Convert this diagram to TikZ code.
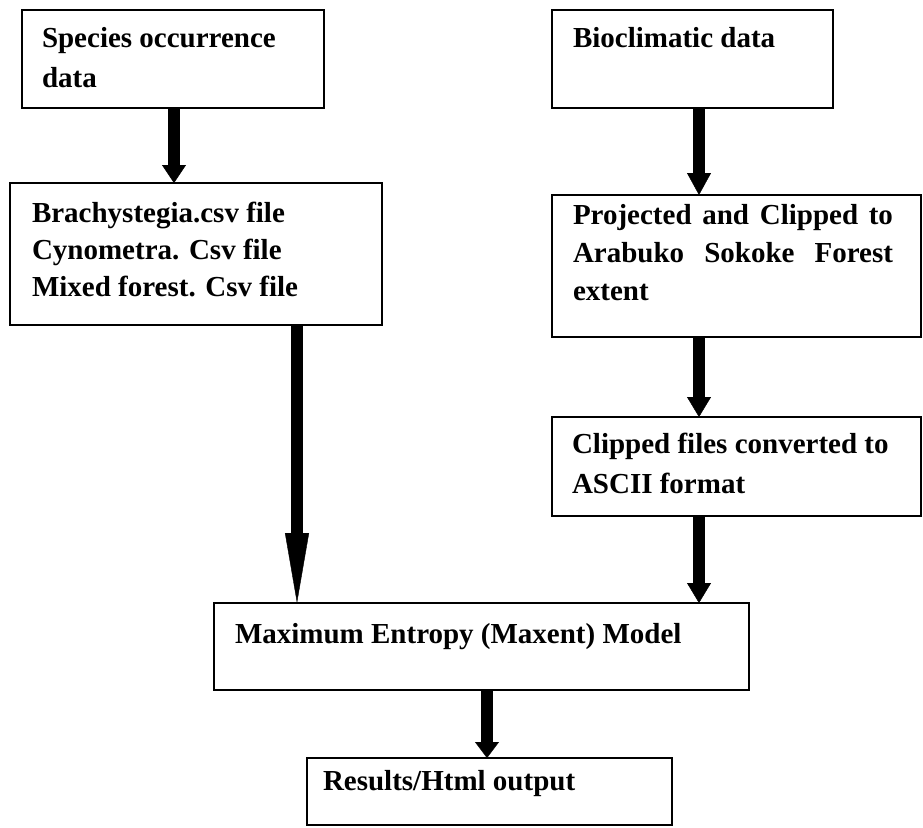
\documentclass[tikz,border=0pt]{standalone}
\usepackage{fontspec}
\setmainfont{Liberation Serif}
\usetikzlibrary{arrows.meta}
\newcommand{\fst}{\rule{0pt}{24pt}}
\begin{document}
\begin{tikzpicture}[x=1pt,y=-1pt,
  box/.style={draw,line width=1.5pt,anchor=north west,inner sep=0pt,outer sep=0pt},
  txt/.style={anchor=north west,inner sep=0pt,outer sep=0pt,align=left},
  arr/.style={line width=12pt,-{Triangle[width=24pt,length=#1,line width=0.4pt]}}]
\fill[white] (0,0) rectangle (923,827);
\useasboundingbox (0,0) rectangle (923,827);
% boxes
\node[box,minimum width=302,minimum height=98] (b1) at (22,10) {};
\node[box,minimum width=281,minimum height=98] (b2) at (552,10) {};
\node[box,minimum width=372,minimum height=142] (b3) at (10,183) {};
\node[box,minimum width=369,minimum height=142] (b4) at (552,195) {};
\node[box,minimum width=369,minimum height=99] (b5) at (552,417) {};
\node[box,minimum width=535,minimum height=87] (b6) at (214,603) {};
\node[box,minimum width=365,minimum height=67] (b7) at (307,758) {};
% texts
\node[txt,font=\bfseries\fontsize{29}{40}\selectfont] (t1) at (42,23) {\fst Species occurrence\\data};
\node[txt,font=\bfseries\fontsize{29}{38}\selectfont] (t2) at (573,23) {\fst Bioclimatic data};
\node[txt,font=\bfseries\fontsize{29}{37}\selectfont] (t3) at (32,198) {\fst Brachystegia.csv file\\Cynometra. Csv file\\Mixed forest. Csv file};
\node[txt,text width=320pt,font=\bfseries\fontsize{29}{38}\selectfont] (t4) at (573,200) {\fst Projected\hfill and\hfill Clipped\hfill to\\Arabuko\hfill Sokoke\hfill Forest\\extent};
\node[txt,font=\bfseries\fontsize{29}{40}\selectfont] (t5) at (572,429) {\fst Clipped files converted to\\ASCII format};
\node[txt,font=\bfseries\fontsize{29}{38}\selectfont] (t6) at (235,619) {\fst Maximum Entropy (Maxent) Model};
\node[txt,font=\bfseries\fontsize{29}{38}\selectfont] (t7) at (323,766) {\fst Results/Html output};
% arrow columns
\coordinate (xa) at (174,0);
\coordinate (xb) at (699,0);
\coordinate (xc) at (297,0);
\coordinate (xd) at (487,0);
\draw[arr=18pt] (b1.south -| xa) -- (b3.north -| xa);
\draw[arr=22pt] (b2.south -| xb) -- (b4.north -| xb);
\draw[arr=20pt] (b4.south -| xb) -- (b5.north -| xb);
\draw[arr=70pt] (b3.south -| xc) -- (b6.north -| xc);
\draw[arr=20pt] (b5.south -| xb) -- (b6.north -| xb);
\draw[arr=16pt] (b6.south -| xd) -- (b7.north -| xd);
\end{tikzpicture}
\end{document}
